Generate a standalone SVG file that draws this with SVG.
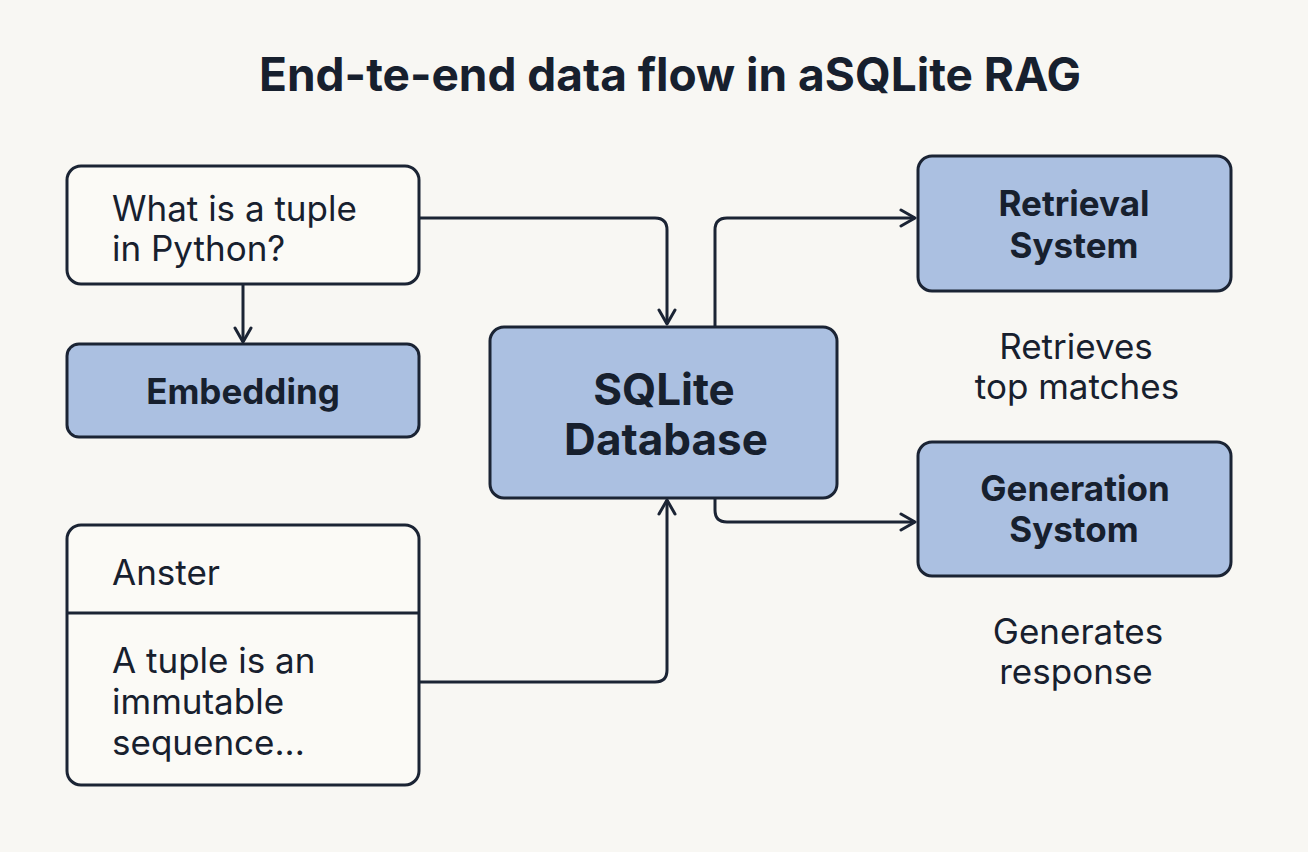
<svg xmlns="http://www.w3.org/2000/svg" width="1308" height="852" viewBox="0 0 1308 852">
<defs>
<style>
.box{stroke:#1b2434;stroke-width:3}
.white{fill:#fbfaf6}
.blue{fill:#abc0e1}
.t{font-family:Inter,"Noto Sans","DejaVu Sans",sans-serif;fill:#17202e}
.reg{font-size:35px}
.bold{font-size:35px;font-weight:700}
.c{text-anchor:middle}
.conn{fill:none;stroke:#1b2434;stroke-width:3;stroke-linejoin:round}
</style>
<marker id="arr" viewBox="0 0 20 20" refX="18" refY="10" markerWidth="20" markerHeight="20" markerUnits="userSpaceOnUse" orient="auto">
<path d="M4,2 L18,10 L4,18" fill="none" stroke="#1b2434" stroke-width="3" stroke-linecap="round" stroke-linejoin="round"/>
</marker>
</defs>
<rect width="1308" height="852" fill="#f8f7f3"/>
<text class="t c" x="670" y="91" font-size="46" font-weight="700">End-te-end data flow in aSQLite RAG</text>

<g id="connectors">
<path class="conn" d="M419,218 H655 Q667,218 667,230 V324" marker-end="url(#arr)"/>
<path class="conn" d="M243,284 V342" marker-end="url(#arr)"/>
<path class="conn" d="M419,682 H655 Q667,682 667,670 V500" marker-end="url(#arr)"/>
<path class="conn" d="M715,327 V230 Q715,218 727,218 H915" marker-end="url(#arr)"/>
<path class="conn" d="M715,498 V510 Q715,522 727,522 H915" marker-end="url(#arr)"/>
</g>

<g id="question">
<rect class="box white" x="67" y="166" width="352" height="118" rx="14"/>
<text class="t reg" x="112" y="221">What is a tuple</text>
<text class="t reg" x="112" y="261">in Python?</text>
</g>

<g id="embedding">
<rect class="box blue" x="67" y="344" width="352" height="93" rx="12"/>
<text class="t bold c" x="243" y="404">Embedding</text>
</g>

<g id="answer">
<rect class="box white" x="67" y="525" width="352" height="260" rx="14"/>
<line class="box" x1="67" y1="613" x2="419" y2="613"/>
<text class="t reg" x="112" y="585">Anster</text>
<text class="t reg" x="112" y="673">A tuple is an</text>
<text class="t reg" x="112" y="714">immutable</text>
<text class="t reg" x="112" y="755">sequence...</text>
</g>

<g id="sqlite">
<rect class="box blue" x="490" y="327" width="347" height="171" rx="14"/>
<text class="t c" x="664" y="405" font-size="44" font-weight="700">SQLite</text>
<text class="t c" x="666" y="455" font-size="44" font-weight="700">Database</text>
</g>

<g id="retrieval">
<rect class="box blue" x="918" y="156" width="313" height="135" rx="14"/>
<text class="t bold c" x="1074" y="216">Retrieval</text>
<text class="t bold c" x="1074" y="258">System</text>
</g>

<g id="retrieval-note">
<text class="t reg c" x="1076" y="359">Retrieves</text>
<text class="t reg c" x="1077" y="399">top matches</text>
</g>

<g id="generation">
<rect class="box blue" x="918" y="442" width="313" height="134" rx="14"/>
<text class="t bold c" x="1075" y="501">Generation</text>
<text class="t bold c" x="1074" y="542">Systom</text>
</g>

<g id="generation-note">
<text class="t reg c" x="1078" y="644">Generates</text>
<text class="t reg c" x="1076" y="684">response</text>
</g>
</svg>
